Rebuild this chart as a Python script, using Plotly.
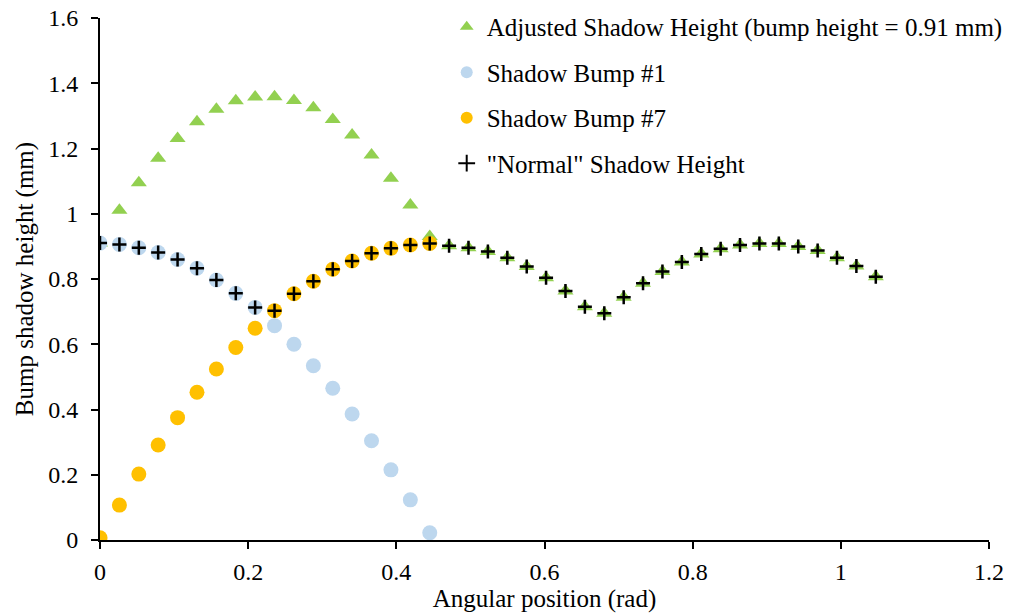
import plotly.graph_objects as go

# Angular positions (rad), 1.5 degree steps from 0 to 60 degrees
angle = [0.0000, 0.0262, 0.0524, 0.0785, 0.1047, 0.1309, 0.1571, 0.1833, 0.2094,
         0.2356, 0.2618, 0.2880, 0.3142, 0.3403, 0.3665, 0.3927, 0.4189, 0.4451,
         0.4712, 0.4974, 0.5236, 0.5498, 0.5760, 0.6021, 0.6283, 0.6545, 0.6807,
         0.7069, 0.7330, 0.7592, 0.7854, 0.8116, 0.8378, 0.8639, 0.8901, 0.9163,
         0.9425, 0.9687, 0.9948, 1.0210, 1.0472]

# Shadow heights (mm)
adjusted = [0.910, 1.011, 1.095, 1.170, 1.231, 1.282, 1.320, 1.346, 1.358, 1.359,
            1.347, 1.325, 1.289, 1.241, 1.180, 1.109, 1.027, 0.930, 0.902, 0.896,
            0.884, 0.865, 0.838, 0.804, 0.763, 0.715, 0.695, 0.744, 0.787, 0.823,
            0.852, 0.877, 0.893, 0.904, 0.909, 0.909, 0.900, 0.887, 0.865, 0.840,
            0.807]
bump1 = [0.910, 0.906, 0.896, 0.881, 0.860, 0.833, 0.797, 0.756, 0.713, 0.657,
         0.600, 0.534, 0.465, 0.386, 0.304, 0.215, 0.123, 0.022]
bump7 = [0.007, 0.107, 0.202, 0.291, 0.375, 0.453, 0.524, 0.590, 0.649, 0.703,
         0.755, 0.793, 0.830, 0.855, 0.879, 0.894, 0.904, 0.909]
normal = [0.910, 0.906, 0.896, 0.881, 0.860, 0.833, 0.797, 0.756, 0.713, 0.703,
          0.755, 0.793, 0.830, 0.855, 0.879, 0.894, 0.904, 0.909, 0.902, 0.896,
          0.884, 0.865, 0.838, 0.804, 0.763, 0.715, 0.695, 0.744, 0.787, 0.823,
          0.852, 0.877, 0.893, 0.904, 0.909, 0.909, 0.900, 0.887, 0.865, 0.840,
          0.807]

names = ["Adjusted Shadow Height (bump height = 0.91 mm)", "Shadow Bump #1",
         "Shadow Bump #7", "\"Normal\" Shadow Height"]

FONT = "Liberation Serif, Times New Roman, serif"

fig = go.Figure()
fig.add_trace(go.Scatter(
    x=angle, y=adjusted, mode="markers", name=names[0], legendgroup="a",
    marker=dict(symbol="triangle-up", size=14, color="#92D050")))
fig.add_trace(go.Scatter(
    x=angle[:len(bump1)], y=bump1, mode="markers", name=names[1], legendgroup="b",
    marker=dict(symbol="circle", size=15, color="#BDD7EE")))
fig.add_trace(go.Scatter(
    x=angle[:len(bump7)], y=bump7, mode="markers", name=names[2], legendgroup="c",
    marker=dict(symbol="circle", size=15, color="#FFC000")))
fig.add_trace(go.Scatter(
    x=angle, y=normal, mode="markers", name=names[3], legendgroup="d",
    marker=dict(symbol="cross-thin", size=10, color="black",
                line=dict(color="black", width=2.5))))

axis_common = dict(
    showline=True, linecolor="black", linewidth=2,
    ticks="outside", ticklen=7, tickwidth=2, tickcolor="black",
    showgrid=False, zeroline=False,
    tickfont=dict(family=FONT, size=24, color="black"),
)

fig.update_layout(
    width=1016, height=616,
    margin=dict(l=100, r=27, t=18, b=76, autoexpand=False),
    paper_bgcolor="white", plot_bgcolor="white",
    font=dict(family=FONT, color="black"),
    xaxis=dict(range=[0, 1.2], dtick=0.2, tick0=0, ticklabelstandoff=2,
               title=dict(text="Angular position (rad)", standoff=4,
                          font=dict(family=FONT, size=25, color="black")),
               **axis_common),
    yaxis=dict(range=[0, 1.6], dtick=0.2, tick0=0, ticklabelstandoff=8,
               title=dict(text="Bump shadow height (mm)", standoff=7,
                          font=dict(family=FONT, size=25, color="black")),
               **axis_common),
    legend=dict(x=0.39, y=1.027, xanchor="left", yanchor="top",
                font=dict(family=FONT, size=25, color="black"),
                bgcolor="rgba(0,0,0,0)", tracegroupgap=10,
                itemsizing="constant"),
    showlegend=True,
)

fig.write_html("out.html")
